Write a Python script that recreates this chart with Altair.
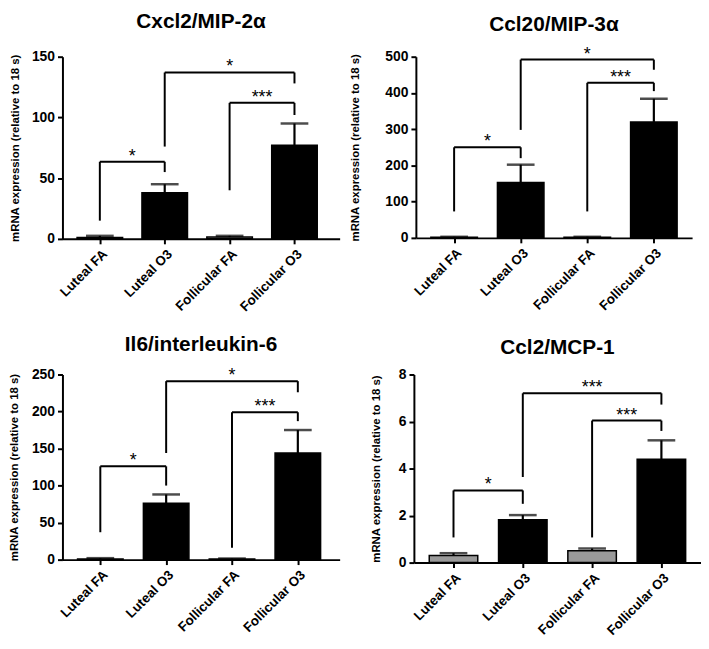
import json
import altair as alt
import pandas as pd

# ---------------- data ----------------
groups = ["Luteal FA", "Luteal O3", "Follicular FA", "Follicular O3"]
exposure = ["FA", "O3", "FA", "O3"]

titles = ["Cxcl2/MIP-2α", "Ccl20/MIP-3α", "Il6/interleukin-6", "Ccl2/MCP-1"]
y_title = "mRNA expression (relative to 18 s)"

y_max = [150, 500, 250, 8]
y_ticks = [[0, 50, 100, 150],
           [0, 100, 200, 300, 400, 500],
           [0, 50, 100, 150, 200, 250],
           [0, 2, 4, 6, 8]]

# bar heights (mean) and top of error bar (mean + SEM)
mean_cxcl2 = [1.2, 38, 1.5, 77]
top_cxcl2 = [2.5, 45, 2.5, 95]
mean_ccl20 = [2, 153, 2, 320]
top_ccl20 = [3, 202, 3, 384]
mean_il6 = [1, 76, 1, 144]
top_il6 = [2, 88, 1.5, 175]
mean_ccl2 = [0.3, 1.82, 0.5, 4.4]
top_ccl2 = [0.4, 2.02, 0.6, 5.2]

# significance brackets: left group, right group, bracket level,
# bottom of left leg, bottom of right leg, label
br_left = [[0, 1, 2], [0, 1, 2], [0, 1, 2], [0, 1, 2]]
br_right = [[1, 3, 3], [1, 3, 3], [1, 3, 3], [1, 3, 3]]
br_level = [[63.5, 137, 112], [250, 492, 428], [126, 241, 199], [3.07, 7.2, 6.04]]
br_left_bottom = [[15, 76, 40], [73, 298, 73], [37, 144, 16], [1.07, 3.64, 1.07]]
br_right_bottom = [[55, 128, 102], [220, 464, 405], [100, 226, 187], [2.5, 6.72, 5.6]]
br_label = [["*", "*", "***"], ["*", "*", "***"], ["*", "*", "***"], ["*", "***", "***"]]

means = [mean_cxcl2, mean_ccl20, mean_il6, mean_ccl2]
tops = [top_cxcl2, top_ccl20, top_il6, top_ccl2]

# ---------------- layout / style ----------------
FONT = "Liberation Sans"
widths = [280, 279, 280, 290]
heights = [184, 183, 187, 190]
x_end = [3.62, 3.5, 3.56, 3.5]
bar_w = [46, 47, 46, 49]
title_pad = [11, 25, 12, 17]
title_off = [18, 11, 12, 10]

label_expr = json.dumps(groups) + "[datum.value]"


def panel(i):
    df = pd.DataFrame({
        "group": groups,
        "pos": list(range(len(groups))),
        "mean": means[i],
        "top": tops[i],
        "exp": exposure,
    })
    hb = pd.DataFrame({
        "x1": br_left[i], "x2": br_right[i], "y": br_level[i], "label": br_label[i],
    })
    hb["xm"] = (hb["x1"] + hb["x2"]) / 2
    legs = pd.DataFrame({
        "x": br_left[i] + br_right[i],
        "yb": br_left_bottom[i] + br_right_bottom[i],
        "y": br_level[i] + br_level[i],
    })

    xscale = alt.Scale(domain=[-0.5, x_end[i]], nice=False, zero=False)
    yscale = alt.Scale(domain=[0, y_max[i]], nice=False)

    xaxis = alt.Axis(values=[0, 1, 2, 3], labelExpr=label_expr, title=None,
                     labelAngle=-45, grid=False, labelFontSize=13.5,
                     labelFontWeight="bold", labelPadding=3,
                     labelOverlap=False)
    yaxis = alt.Axis(values=y_ticks[i], title=y_title, grid=False,
                     labelFontSize=14, labelFontWeight="bold",
                     titleFontSize=11.5, titleFontWeight="bold",
                     titlePadding=title_pad[i], labelPadding=3,
                     labelOverlap=False)

    def X(f):
        return alt.X(f, scale=xscale, axis=xaxis)

    def Y(f):
        return alt.Y(f, scale=yscale, axis=yaxis)

    base = alt.Chart(df)
    bars = base.mark_bar(size=bar_w[i], stroke="black", strokeWidth=1.5).encode(
        x=X("pos:Q"),
        y=Y("mean:Q"),
        color=alt.Color("exp:N", scale=alt.Scale(domain=["FA", "O3"],
                                                 range=["#9a9a9a", "#000000"]),
                        legend=None),
    )
    err = base.mark_rule(color="black", strokeWidth=2.2).encode(
        x=X("pos:Q"), y=Y("mean:Q"), y2="top:Q")
    cap = base.mark_tick(color="black", orient="horizontal", size=28,
                         thickness=2.5).encode(x=X("pos:Q"), y=Y("top:Q"))

    hline = alt.Chart(hb).mark_rule(color="black", strokeWidth=2).encode(
        x=X("x1:Q"), x2="x2:Q", y=Y("y:Q"))
    vline = alt.Chart(legs).mark_rule(color="black", strokeWidth=2).encode(
        x=X("x:Q"), y=Y("yb:Q"), y2="y:Q")
    stars = alt.Chart(hb).mark_text(font=FONT, fontSize=18, color="black",
                                    baseline="alphabetic", dy=0).encode(
        x=X("xm:Q"), y=Y("y:Q"), text="label:N")

    return alt.layer(bars, err, cap, hline, vline, stars).properties(
        width=widths[i], height=heights[i],
        title=alt.TitleParams(titles[i], fontSize=21, font=FONT,
                              fontWeight="bold", color="black",
                              offset=title_off[i], anchor="middle"),
    )


top_row = alt.hconcat(panel(0), panel(1), spacing=9)
bottom_row = alt.hconcat(panel(2), panel(3), spacing=31)
chart = alt.vconcat(top_row, bottom_row, spacing=20).properties(
    padding={"left": 0, "top": 0, "right": 0, "bottom": 0}
).configure_view(stroke=None).configure_axis(
    labelFont=FONT, titleFont=FONT, labelColor="black", titleColor="black",
    domainColor="black", tickColor="black", domainWidth=2, tickWidth=2,
    tickSize=5,
)

chart.save("out.html", embed_options={"renderer": "svg", "actions": False})
